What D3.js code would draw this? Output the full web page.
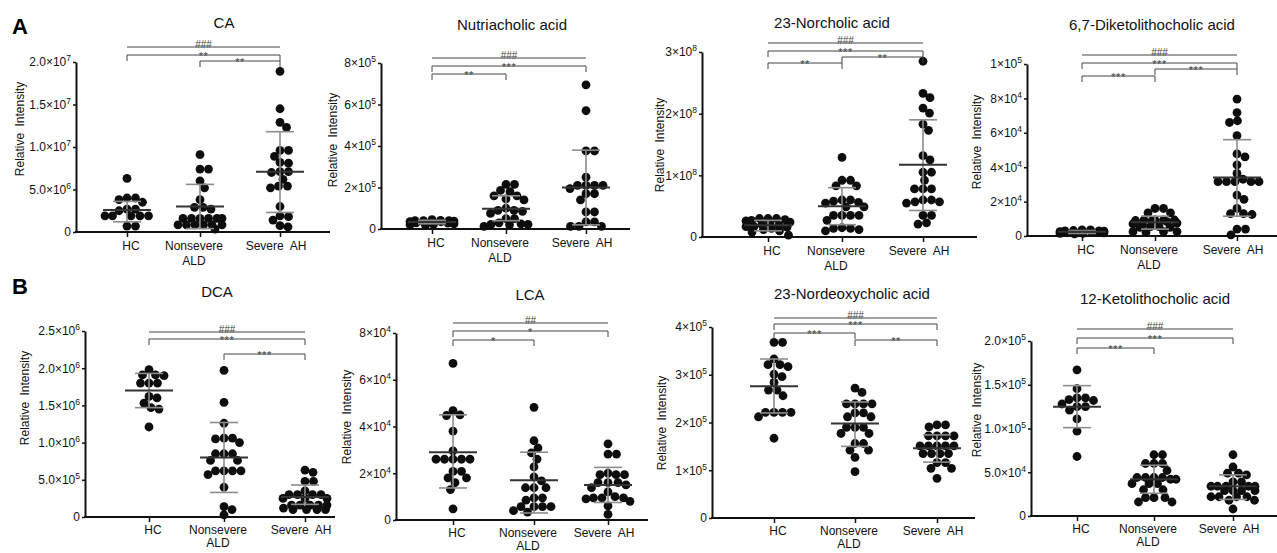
<!DOCTYPE html>
<html>
<head>
<meta charset="utf-8">
<script src="https://cdn.jsdelivr.net/npm/d3@7"></script>
<style>
body { margin: 0; background: #fff; }
svg { display: block; }
text { font-family: "Liberation Sans", Arial, sans-serif; }
</style>
</head>
<body>
<div id="chart"></div>
<script>
var groups = ["HC", "Nonsevere ALD", "Severe AH"];
var groupLines = [["HC"], ["Nonsevere", "ALD"], ["Severe  AH"]];

// CA (x1e6)
var caHC  = [6.3, 4.0, 4.0, 3.8, 3.5, 2.7, 2.7, 2.5, 1.9, 1.9, 1.9, 1.9, 1.9, 0.7, 0.7];
var caNon = [9.1, 7.4, 7.4, 6.0, 5.2, 3.8, 2.9, 2.9, 2.7, 1.6, 1.6, 1.6, 1.6, 1.6, 1.6, 0.85, 0.85, 0.85, 0.85, 0.85, 0.85, 0.35];
var caSev = [18.9, 14.5, 12.9, 12.3, 9.6, 9.6, 8.9, 8.1, 8.2, 7.1, 7.0, 7.1, 6.2, 5.4, 5.4, 5.2, 3.0, 1.9, 1.8, 1.4, 0.75, 0.6];
var caStats = [[2.6, 1.2, 3.6], [3.0, 0.4, 5.6], [7.1, 2.3, 11.8]];   // median, low, high
var caTicks = [0, 5, 10, 15, 20];

// Nutriacholic acid (x1e5)
var nuHC  = [0.45, 0.42, 0.40, 0.40, 0.38, 0.36, 0.35, 0.35, 0.33, 0.30, 0.28, 0.25, 0.22, 0.20, 0.18, 0.40];
var nuNon = [2.15, 2.15, 1.86, 1.8, 1.6, 1.6, 1.45, 1.4, 1.0, 0.9, 0.9, 0.85, 0.75, 0.5, 0.5, 0.3, 0.25, 0.22, 0.22, 0.2, 0.13];
var nuSev = [6.95, 5.7, 3.76, 3.76, 2.5, 2.1, 2.1, 2.1, 2.1, 1.95, 1.7, 1.7, 1.4, 0.82, 0.82, 0.34, 0.34, 0.13, 0.13, 0.13];
var nuStats = [[0.34, 0.25, 0.42], [0.98, 0.4, 1.6], [2.0, 0.2, 3.8]];
var nuTicks = [0, 2, 4, 6, 8];

// 23-Norcholic acid (x1e8)
var ncHC  = [0.3, 0.3, 0.3, 0.28, 0.27, 0.26, 0.24, 0.22, 0.2, 0.19, 0.17, 0.17, 0.16, 0.14, 0.12, 0.1, 0.08, 0.03];
var ncNon = [1.29, 0.92, 0.92, 0.83, 0.83, 0.6, 0.6, 0.58, 0.56, 0.55, 0.49, 0.49, 0.35, 0.35, 0.35, 0.35, 0.27, 0.15, 0.14, 0.14, 0.12, 0.1];
var ncSev = [2.85, 2.33, 2.26, 2.09, 2.01, 1.83, 1.73, 1.32, 1.25, 1.05, 1.05, 0.92, 0.78, 0.78, 0.78, 0.6, 0.6, 0.57, 0.57, 0.55, 0.35, 0.35, 0.23, 0.21];
var ncStats = [[0.19, 0.1, 0.27], [0.5, 0.2, 0.8], [1.17, 0.43, 1.9]];
var ncTicks = [0, 1, 2, 3];

// 6,7-Diketolithocholic acid (x1e4)
var dkHC  = [0.35, 0.35, 0.32, 0.3, 0.3, 0.28, 0.26, 0.25, 0.25, 0.22, 0.2, 0.2, 0.18, 0.15, 0.15, 0.12];
var dkNon = [1.6, 1.6, 1.35, 1.35, 0.93, 0.93, 0.93, 0.93, 0.9, 0.88, 0.83, 0.75, 0.7, 0.65, 0.55, 0.55, 0.5, 0.5, 0.25, 0.25, 0.25, 0.2];
var dkSev = [7.96, 7.17, 6.7, 6.6, 5.83, 4.77, 4.6, 4.13, 3.64, 3.3, 3.16, 3.16, 3.16, 3.16, 3.16, 2.38, 2.13, 1.6, 1.3, 1.3, 1.25, 0.4, 0.4, 0.06];
var dkStats = [[0.25, 0.15, 0.32], [0.8, 0.4, 1.15], [3.4, 1.15, 5.6]];
var dkTicks = [0, 2, 4, 6, 8, 10];

// DCA (x1e6)
var dcHC  = [1.98, 1.91, 1.91, 1.9, 1.8, 1.8, 1.8, 1.6, 1.62, 1.53, 1.47, 1.45, 1.21];
var dcNon = [1.97, 1.54, 1.26, 1.06, 1.06, 1.0, 1.05, 0.85, 0.85, 0.85, 0.76, 0.76, 0.62, 0.62, 0.62, 0.62, 0.57, 0.4, 0.14, 0.1, 0.03];
var dcSev = [0.63, 0.6, 0.48, 0.48, 0.35, 0.3, 0.3, 0.3, 0.3, 0.25, 0.25, 0.25, 0.16, 0.16, 0.16, 0.16, 0.16, 0.1, 0.1, 0.1, 0.1, 0.12];
var dcStats = [[1.7, 1.47, 1.93], [0.8, 0.33, 1.27], [0.27, 0.17, 0.43]];
var dcTicks = [0, 0.5, 1, 1.5, 2, 2.5];

// LCA (x1e4)
var lcHC  = [6.7, 4.68, 4.5, 4.47, 3.8, 2.96, 2.6, 2.6, 2.6, 2.6, 2.6, 2.08, 2.08, 1.8, 1.8, 1.6, 1.3, 0.48];
var lcNon = [4.82, 3.39, 3.08, 2.87, 2.6, 2.27, 1.84, 1.67, 1.38, 1.38, 1.38, 0.95, 0.95, 0.85, 0.57, 0.57, 0.57, 0.57, 0.34, 0.4];
var lcSev = [3.26, 2.82, 2.82, 2.0, 1.94, 1.94, 1.94, 1.6, 1.6, 1.6, 1.5, 1.38, 1.2, 1.0, 0.95, 0.95, 0.95, 0.9, 0.8, 0.6, 0.24];
var lcStats = [[2.9, 1.37, 4.5], [1.7, 0.3, 2.9], [1.5, 0.75, 2.25]];
var lcTicks = [0, 2, 4, 6, 8];

// 23-Nordeoxycholic acid (x1e5)
var ndHC  = [3.68, 3.68, 3.33, 3.21, 3.21, 3.17, 3.01, 2.96, 2.84, 2.68, 2.68, 2.56, 2.21, 2.21, 2.21, 2.21, 2.12, 1.67];
var ndNon = [2.72, 2.63, 2.39, 2.39, 2.39, 2.39, 2.2, 2.2, 2.12, 2.12, 1.9, 1.9, 1.9, 1.77, 1.77, 1.56, 1.56, 1.42, 1.42, 1.27, 0.97];
var ndSev = [1.95, 1.95, 1.91, 1.72, 1.72, 1.72, 1.72, 1.51, 1.51, 1.51, 1.51, 1.51, 1.35, 1.35, 1.35, 1.35, 1.16, 1.16, 1.04, 1.04, 0.83];
var ndStats = [[2.76, 2.2, 3.33], [1.98, 1.5, 2.43], [1.46, 1.17, 1.74]];
var ndTicks = [0, 1, 2, 3, 4];

// 12-Ketolithocholic acid (x1e5)
var kHC  = [1.67, 1.455, 1.35, 1.35, 1.33, 1.32, 1.28, 1.25, 1.25, 1.21, 1.11, 0.97, 0.68];
var kNon = [0.7, 0.7, 0.6, 0.6, 0.6, 0.52, 0.44, 0.44, 0.44, 0.44, 0.42, 0.42, 0.37, 0.37, 0.37, 0.3, 0.3, 0.21, 0.21, 0.21, 0.16, 0.16];
var kSev = [0.7, 0.56, 0.49, 0.49, 0.47, 0.39, 0.39, 0.34, 0.34, 0.34, 0.34, 0.34, 0.29, 0.29, 0.29, 0.29, 0.22, 0.22, 0.22, 0.22, 0.18, 0.18, 0.08];
var kStats = [[1.25, 1.01, 1.49], [0.42, 0.26, 0.58], [0.34, 0.19, 0.47]];
var kTicks = [0, 0.5, 1, 1.5, 2];

// significance marks: label, from group, to group
var caSig = [["###", 0, 2], ["**", 0, 2], ["**", 1, 2]];
var nuSig = [["###", 0, 2], ["***", 0, 2], ["**", 0, 1]];
var ncSig = [["###", 0, 2], ["***", 0, 2], ["**", 0, 1], ["**", 1, 2]];
var dkSig = [["###", 0, 2], ["***", 0, 2], ["***", 0, 1], ["***", 1, 2]];
var dcSig = [["###", 0, 2], ["***", 0, 2], ["***", 1, 2]];
var lcSig = [["##", 0, 2], ["*", 0, 2], ["*", 0, 1]];
var ndSig = [["###", 0, 2], ["***", 0, 2], ["***", 0, 1], ["**", 1, 2]];
var kSig  = [["###", 0, 2], ["***", 0, 2], ["***", 0, 1]];

var W = 1277, H = 553;

var panels = [
  {title: "CA", unit: 1e6, dec: 1, ticks: caTicks, vals: [caHC, caNon, caSev], stats: caStats, sig: caSig,
   ax: 76, top: 62, bot: 232, end: 330, cx: [127, 200, 280], tx: 224, ty: 28, lx: 20, ly: 129, sy: [47, 55, 61]},
  {title: "Nutriacholic acid", unit: 1e5, dec: 0, ticks: nuTicks, vals: [nuHC, nuNon, nuSev], stats: nuStats, sig: nuSig,
   ax: 381, top: 63, bot: 229, end: 630, cx: [432, 506, 586], tx: 512, ty: 30, lx: 333, ly: 140, sy: [58, 66, 74]},
  {title: "23-Norcholic acid", unit: 1e8, dec: 0, ticks: ncTicks, vals: [ncHC, ncNon, ncSev], stats: ncStats, sig: ncSig,
   ax: 702, top: 52, bot: 237, end: 977, cx: [768, 842, 923], tx: 832, ty: 28, lx: 660, ly: 145, sy: [43, 51, 63, 57]},
  {title: "6,7-Diketolithocholic acid", unit: 1e4, dec: 0, ticks: dkTicks, vals: [dkHC, dkNon, dkSev], stats: dkStats, sig: dkSig,
   ax: 1027, top: 64, bot: 236, end: 1277, cx: [1082, 1155, 1237], tx: 1152, ty: 30, lx: 977, ly: 142, sy: [55, 63, 76, 69]},
  {title: "DCA", unit: 1e6, dec: 1, ticks: dcTicks, vals: [dcHC, dcNon, dcSev], stats: dcStats, sig: dcSig,
   ax: 85, top: 331, bot: 517, end: 335, cx: [149, 224, 305], tx: 217, ty: 297, lx: 25, ly: 398, sy: [332, 339, 354]},
  {title: "LCA", unit: 1e4, dec: 0, ticks: lcTicks, vals: [lcHC, lcNon, lcSev], stats: lcStats, sig: lcSig,
   ax: 396, top: 333, bot: 520, end: 648, cx: [453, 534, 608], tx: 530, ty: 300, lx: 347, ly: 417, sy: [323, 331, 340]},
  {title: "23-Nordeoxycholic acid", unit: 1e5, dec: 0, ticks: ndTicks, vals: [ndHC, ndNon, ndSev], stats: ndStats, sig: ndSig,
   ax: 712, top: 327, bot: 518, end: 975, cx: [774, 855, 937], tx: 852, ty: 299, lx: 662, ly: 423, sy: [318, 324, 333, 340]},
  {title: "12-Ketolithocholic acid", unit: 1e5, dec: 1, ticks: kTicks, vals: [kHC, kNon, kSev], stats: kStats, sig: kSig,
   ax: 1031, top: 341, bot: 516, end: 1277, cx: [1077, 1154, 1233], tx: 1155, ty: 304, lx: 977, ly: 410, sy: [329, 338, 348]}
];

var svg = d3.select("#chart").append("svg")
  .attr("width", W)
  .attr("height", H);

svg.append("text").attr("x", 12).attr("y", 34)
  .attr("font-size", 22).attr("font-weight", "bold").text("A");
svg.append("text").attr("x", 12).attr("y", 294)
  .attr("font-size", 22).attr("font-weight", "bold").text("B");

var R = 4.4, MAXW = 22;

// points at similar heights are set side by side, up to a max width (then they overlap)
function swarm(vals, y) {
  var pts = vals.map(function(v){ return {v: v, y: y(v)}; })
    .sort(function(a, b){ return a.y - b.y; });
  var placed = [], dmin = 2*R*0.92;
  pts.forEach(function(p){
    var best = 0, bestPen = Infinity;
    for (var c = 0; c <= MAXW && bestPen > 0; c += 0.5) {
      [c, -c].forEach(function(cc){
        var pen = 0;
        placed.forEach(function(q){
          var dx = cc - q.dx, dy = p.y - q.y;
          var d = Math.sqrt(dx*dx + dy*dy);
          if (d < dmin) pen += dmin - d;
        });
        if (pen < bestPen - 1e-6) { bestPen = pen; best = cc; }
      });
    }
    p.dx = best;
    placed.push(p);
  });
  return placed;
}

function fmtTick(v, unit, dec) {
  if (v === 0) return null;
  var real = v * unit;
  var e = Math.floor(Math.log10(real) + 1e-9);
  var m = real / Math.pow(10, e);
  return [m.toFixed(dec) + "\u00d710", String(e)];
}

panels.forEach(function(p, pi){
  var g = svg.append("g");
  var rowB = pi >= 4;

  var y = d3.scaleLinear()
    .domain([0, p.ticks[p.ticks.length - 1]])
    .range([p.bot, p.top]);
  var x = d3.scaleOrdinal().domain(groups).range(p.cx);

  // title
  g.append("text")
    .attr("x", p.tx).attr("y", p.ty)
    .attr("text-anchor", "middle")
    .attr("font-size", 15)
    .attr("fill", "#111")
    .text(p.title);

  // y axis
  var yAxis = g.append("g")
    .attr("transform", "translate(" + p.ax + ",0)")
    .call(d3.axisLeft(y).tickValues(p.ticks).tickSize(3).tickSizeOuter(0).tickPadding(2));
  yAxis.select(".domain").attr("stroke", "#111").attr("stroke-width", 2);
  yAxis.selectAll(".tick line").attr("stroke", "#111").attr("stroke-width", 1.5);
  yAxis.selectAll(".tick text")
    .attr("font-size", 12)
    .attr("font-family", "Liberation Sans, Arial, sans-serif")
    .attr("fill", "#111")
    .each(function(d){
      var t = d3.select(this);
      var parts = fmtTick(d, p.unit, p.dec);
      if (!parts) { t.text("0"); return; }
      t.text(null);
      t.append("tspan").text(parts[0]);
      t.append("tspan").attr("dy", -5).attr("font-size", 8.5).text(parts[1]);
    });

  // y label
  g.append("text")
    .attr("transform", "translate(" + p.lx + "," + p.ly + ") rotate(-90)")
    .attr("text-anchor", "middle")
    .attr("dy", "0.35em")
    .attr("font-size", 12)
    .attr("word-spacing", 3)
    .attr("fill", "#111")
    .text("Relative Intensity");

  // x axis
  g.append("line")
    .attr("x1", p.ax - 1).attr("x2", p.end)
    .attr("y1", p.bot).attr("y2", p.bot)
    .attr("stroke", "#111").attr("stroke-width", 2);
  var xAxis = g.append("g")
    .attr("transform", "translate(0," + p.bot + ")")
    .call(d3.axisBottom(x).tickSize(5).tickSizeOuter(0).tickFormat(""));
  xAxis.select(".domain").remove();
  xAxis.selectAll(".tick line").attr("stroke", "#111").attr("stroke-width", 1.5);

  var labOff = [4, -6, -4];
  groups.forEach(function(gr, i){
    groupLines[i].forEach(function(line, j){
      g.append("text")
        .attr("x", x(gr) + labOff[i])
        .attr("y", rowB ? p.bot + 17 + j * 12.5 : p.bot + 18 + j * 15)
        .attr("text-anchor", "middle")
        .attr("font-size", 12)
        .attr("fill", "#111")
        .style("white-space", "pre")
        .text(line);
    });
  });

  // dots
  groups.forEach(function(gr, i){
    var pts = swarm(p.vals[i], y);
    g.selectAll(".dot" + i)
      .data(pts)
      .enter()
      .append("circle")
      .attr("cx", function(d){ return x(gr) + d.dx; })
      .attr("cy", function(d){ return d.y; })
      .attr("r", R)
      .attr("fill", "#0d0d0d");
  });

  // median and range bars
  groups.forEach(function(gr, i){
    var s = p.stats[i], cx = x(gr);
    g.append("line")
      .attr("x1", cx).attr("x2", cx)
      .attr("y1", y(s[1])).attr("y2", y(s[2]))
      .attr("stroke", "#8c8c8c").attr("stroke-width", 1.6);
    [s[1], s[2]].forEach(function(v){
      g.append("line")
        .attr("x1", cx - 14).attr("x2", cx + 14)
        .attr("y1", y(v)).attr("y2", y(v))
        .attr("stroke", "#8c8c8c").attr("stroke-width", 1.6);
    });
    g.append("line")
      .attr("x1", cx - 24).attr("x2", cx + 24)
      .attr("y1", y(s[0])).attr("y2", y(s[0]))
      .attr("stroke", "#333").attr("stroke-width", 2);
  });

  // significance brackets
  p.sig.forEach(function(s, k){
    var x1 = x(groups[s[1]]), x2 = x(groups[s[2]]), ly = p.sy[k];
    var hash = s[0].charAt(0) == "#";
    var path = hash
      ? "M" + x1 + "," + ly + "H" + x2
      : "M" + x1 + "," + (ly + 6) + "V" + ly + "H" + x2 + "V" + (ly + 6);
    g.append("path")
      .attr("d", path)
      .attr("fill", "none")
      .attr("stroke", "#444")
      .attr("stroke-width", 1);
    g.append("text")
      .attr("x", (x1 + x2) / 2)
      .attr("y", hash ? ly + 1 : ly + 5)
      .attr("text-anchor", "middle")
      .attr("font-size", hash ? 10 : 11)
      .attr("letter-spacing", hash ? 0 : 0.5)
      .attr("fill", "#444")
      .text(s[0]);
  });
});
</script>
</body>
</html>
